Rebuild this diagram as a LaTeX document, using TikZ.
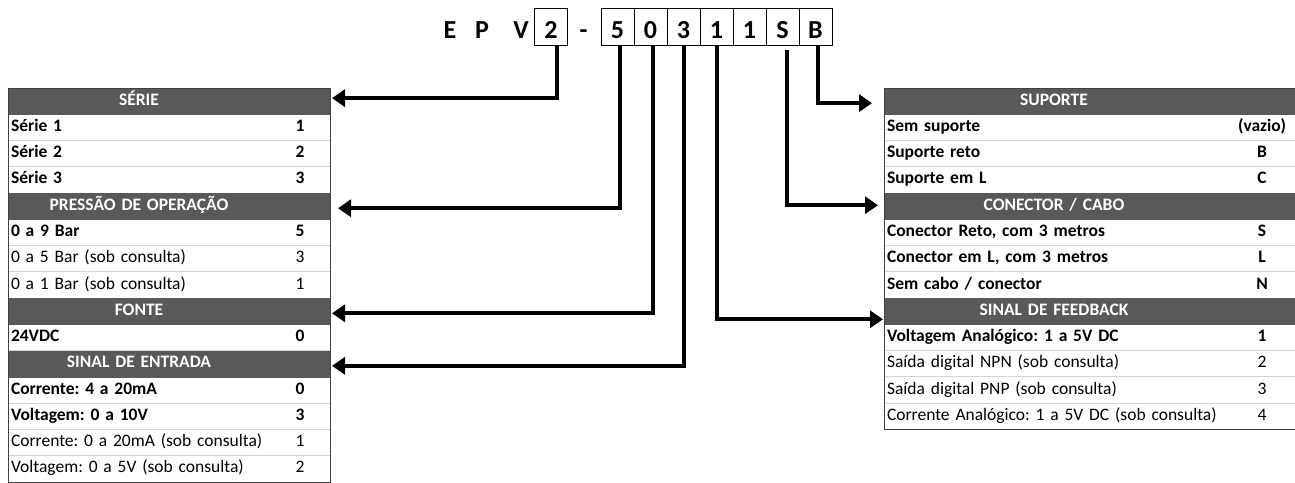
\documentclass[tikz,border=0pt]{standalone}
\usepackage{fontspec}
\setmainfont{Carlito}
\usetikzlibrary{positioning,arrows.meta}
\definecolor{headgray}{RGB}{89,89,89}
\definecolor{rulegray}{RGB}{212,212,212}
\newcommand\tabfont{\fontsize{17.5}{21}\selectfont\frenchspacing}
\newcommand\codefont{\fontsize{26}{30}\selectfont\bfseries}
\begin{document}
\begin{tikzpicture}[x=1pt,y=-1pt,
    every node/.style={outer sep=0pt},
    base/.style={minimum height=26.27pt, inner ysep=0pt, text height=12pt, text depth=4pt},
    ruled/.style={append after command={(\tikzlastnode.south west) edge[rulegray, line width=1pt] (\tikzlastnode.south east)}},
    optcell/.style={base, ruled, inner xsep=3pt, text width=#1, align=left, font=\tabfont},
    stdcell/.style={optcell=#1, font=\tabfont\bfseries},
    optval/.style={base, ruled, inner xsep=0pt, minimum width=#1, font=\tabfont},
    stdval/.style={optval=#1, font=\tabfont\bfseries},
    headcell/.style={base, inner xsep=3pt, text width=#1, align=center, fill=headgray, draw=headgray, text=white, font=\tabfont\bfseries},
    headval/.style={base, inner xsep=0pt, minimum width=#1, fill=headgray, draw=headgray},
    frame/.style={draw=black!75, line width=1pt},
    code/.style={font=\codefont, text height=24pt, text depth=1pt, inner sep=0pt},
    kbox/.style={code, draw, line width=0.8pt, minimum width=33pt, minimum height=37pt},
    conn/.style={line width=4pt, -{Triangle[length=13pt,width=17pt]}}]
  \useasboundingbox (0,0) rectangle (1295,482);

  % code
  \node[code] (lE) at (450,26.5) {E};
  \node[code] (lP) at (482,26.5) {P};
  \node[code] (lV) at (521,26.5) {V};
  \node[kbox] (k2) at (551,26.5) {2};
  \node[code] (lDash) at (583.5,26.5) {-};
  \node[kbox] (k5) at (617.5,26.5) {5};
  \node[kbox, right=0pt of k5] (k0) {0};
  \node[kbox, right=0pt of k0] (k3) {3};
  \node[kbox, right=0pt of k3] (k1) {1};
  \node[kbox, right=0pt of k1] (k1b) {1};
  \node[kbox, right=0pt of k1b] (kS) {S};
  \node[kbox, right=0pt of kS] (kB) {B};

  % left table
  \node[headcell=256pt, anchor=north west] (serie) at (8,88) {SÉRIE};
  \node[headval=60pt, right=0pt of serie] (serieV) {};
  \node[stdcell=256pt, below=0pt of serie] (s1) {Série 1};
  \node[stdval=60pt, right=0pt of s1] (s1V) {1};
  \node[stdcell=256pt, below=0pt of s1] (s2) {Série 2};
  \node[stdval=60pt, right=0pt of s2] (s2V) {2};
  \node[stdcell=256pt, below=0pt of s2] (s3) {Série 3};
  \node[stdval=60pt, right=0pt of s3] (s3V) {3};
  \node[headcell=256pt, below=0pt of s3] (pressao) {PRESSÃO DE OPERAÇÃO};
  \node[headval=60pt, right=0pt of pressao] (pressaoV) {};
  \node[stdcell=256pt, below=0pt of pressao] (p1) {0 a 9 Bar};
  \node[stdval=60pt, right=0pt of p1] (p1V) {5};
  \node[optcell=256pt, below=0pt of p1] (p2) {0 a 5 Bar (sob consulta)};
  \node[optval=60pt, right=0pt of p2] (p2V) {3};
  \node[optcell=256pt, below=0pt of p2] (p3) {0 a 1 Bar (sob consulta)};
  \node[optval=60pt, right=0pt of p3] (p3V) {1};
  \node[headcell=256pt, below=0pt of p3] (fonte) {FONTE};
  \node[headval=60pt, right=0pt of fonte] (fonteV) {};
  \node[stdcell=256pt, below=0pt of fonte] (f1) {24VDC};
  \node[stdval=60pt, right=0pt of f1] (f1V) {0};
  \node[headcell=256pt, below=0pt of f1] (entrada) {SINAL DE ENTRADA};
  \node[headval=60pt, right=0pt of entrada] (entradaV) {};
  \node[stdcell=256pt, below=0pt of entrada] (e1) {Corrente: 4 a 20mA};
  \node[stdval=60pt, right=0pt of e1] (e1V) {0};
  \node[stdcell=256pt, below=0pt of e1] (e2) {Voltagem: 0 a 10V};
  \node[stdval=60pt, right=0pt of e2] (e2V) {3};
  \node[optcell=256pt, below=0pt of e2] (e3) {Corrente: 0 a 20mA (sob consulta)};
  \node[optval=60pt, right=0pt of e3] (e3V) {1};
  \node[optcell=256pt, below=0pt of e3] (e4) {Voltagem: 0 a 5V (sob consulta)};
  \node[optval=60pt, right=0pt of e4] (e4V) {2};
  \draw[frame] (serie.north west) rectangle (e4V.south east);

  % right table
  \node[headcell=334pt, anchor=north west] (suporte) at (884,88) {SUPORTE};
  \node[headval=76pt, right=0pt of suporte] (suporteV) {};
  \node[stdcell=334pt, below=0pt of suporte] (u1) {Sem suporte};
  \node[stdval=76pt, right=0pt of u1] (u1V) {(vazio)};
  \node[stdcell=334pt, below=0pt of u1] (u2) {Suporte reto};
  \node[stdval=76pt, right=0pt of u2] (u2V) {B};
  \node[stdcell=334pt, below=0pt of u2] (u3) {Suporte em L};
  \node[stdval=76pt, right=0pt of u3] (u3V) {C};
  \node[headcell=334pt, below=0pt of u3] (conector) {CONECTOR / CABO};
  \node[headval=76pt, right=0pt of conector] (conectorV) {};
  \node[stdcell=334pt, below=0pt of conector] (c1) {Conector Reto, com 3 metros};
  \node[stdval=76pt, right=0pt of c1] (c1V) {S};
  \node[stdcell=334pt, below=0pt of c1] (c2) {Conector em L, com 3 metros};
  \node[stdval=76pt, right=0pt of c2] (c2V) {L};
  \node[stdcell=334pt, below=0pt of c2] (c3) {Sem cabo / conector};
  \node[stdval=76pt, right=0pt of c3] (c3V) {N};
  \node[headcell=334pt, below=0pt of c3] (feedback) {SINAL DE FEEDBACK};
  \node[headval=76pt, right=0pt of feedback] (feedbackV) {};
  \node[stdcell=334pt, below=0pt of feedback] (b1) {Voltagem Analógico: 1 a 5V DC};
  \node[stdval=76pt, right=0pt of b1] (b1V) {1};
  \node[optcell=334pt, below=0pt of b1] (b2) {Saída digital NPN (sob consulta)};
  \node[optval=76pt, right=0pt of b2] (b2V) {2};
  \node[optcell=334pt, below=0pt of b2] (b3) {Saída digital PNP (sob consulta)};
  \node[optval=76pt, right=0pt of b3] (b3V) {3};
  \node[optcell=334pt, below=0pt of b3] (b4) {Corrente Analógico: 1 a 5V DC (sob consulta)};
  \node[optval=76pt, right=0pt of b4] (b4V) {4};
  \draw[frame] (suporte.north west) rectangle (b4V.south east);

  % connectors
  \begin{scope}[conn]
    \draw[shorten >=2pt] ([xshift=6pt]k2.south) |- ([yshift=3pt]serieV.east);
    \draw[shorten >=8pt] ([xshift=2.5pt]k5.south) |- ([yshift=-2pt]pressaoV.east);
    \draw[shorten >=2pt] ([xshift=2.5pt]k0.south) |- ([yshift=-2pt]fonteV.east);
    \draw[shorten >=2pt] (k3.south) |- ([yshift=-2pt]entradaV.east);
    \draw[shorten >=1pt] ([xshift=0.5pt]k1.south) |- ([yshift=-8pt]feedback.west);
    \draw[shorten <=5pt, shorten >=6pt] ([xshift=4.5pt]kS.south) |- ([yshift=1pt]conector.west);
    \draw[shorten >=12pt] ([xshift=2.5pt]kB.south) |- ([yshift=-2pt]suporte.west);
  \end{scope}
\end{tikzpicture}
\end{document}
